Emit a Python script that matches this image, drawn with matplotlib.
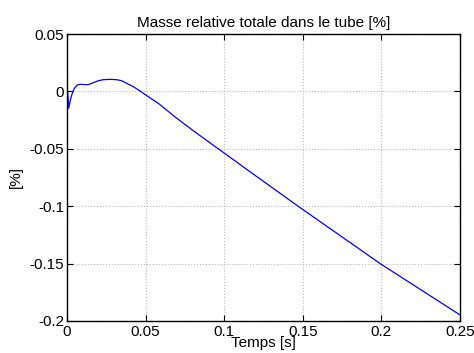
import numpy as np
import matplotlib
matplotlib.use('Agg')
import matplotlib.pyplot as plt
from matplotlib.ticker import FuncFormatter

# donnees
temps = [0.0, 0.0004, 0.0011, 0.0019, 0.003, 0.0047, 0.0066, 0.0083, 0.0115, 0.0136,
         0.0168, 0.0199, 0.0231, 0.0274, 0.0316, 0.0348, 0.038, 0.0422, 0.0468,
         0.0517, 0.0581, 0.0645, 0.0687, 0.08, 0.0962, 0.1, 0.12, 0.147, 0.175,
         0.1992, 0.225, 0.25]
masse = [0.0, -0.0002, -0.0147, -0.0089, -0.0031, 0.0027, 0.0056, 0.0062, 0.0059, 0.0059,
         0.0076, 0.0093, 0.0102, 0.0105, 0.0102, 0.0093, 0.007, 0.0041, 0.0,
         -0.0046, -0.0104, -0.0175, -0.0222, -0.0339, -0.05, -0.0537, -0.0735, -0.10, -0.1268,
         -0.15, -0.1727, -0.1947]

xticks = [0, 0.05, 0.1, 0.15, 0.2, 0.25]
yticks = [-0.2, -0.15, -0.1, -0.05, 0, 0.05]

plt.rcParams['font.family'] = ['Liberation Sans', 'DejaVu Sans']

fig = plt.figure(figsize=(4.74, 3.53), dpi=100)
ax = fig.add_axes([67/474, 1-321/353, 393/474, 287/353])
ax.plot(temps, masse, color='#0000ff', linewidth=0.9)
ax.set_xlim(0, 0.25)
ax.set_ylim(-0.2, 0.05)
ax.set_xticks(xticks)
ax.set_yticks(yticks)

fmt = FuncFormatter(lambda v, p: ('%g' % round(v, 4)).replace('\u2212', '-'))
ax.xaxis.set_major_formatter(fmt)
ax.yaxis.set_major_formatter(fmt)

ax.grid(True, linestyle=':', color='#b8b8b8', linewidth=0.8)
ax.tick_params(direction='in', top=True, right=True, length=4, width=0.8,
               labelsize=11, pad=2, colors='black')
ax.tick_params(axis='x', pad=3)
for s in ax.spines.values():
    s.set_linewidth(1.0)

ax.set_title('Masse relative totale dans le tube [%]', fontsize=11, pad=5)
ax.set_xlabel('Temps [s]', fontsize=11, labelpad=-2)
ax.set_ylabel('[%]', fontsize=11, labelpad=5)

fig.savefig('out.png', dpi=100)
